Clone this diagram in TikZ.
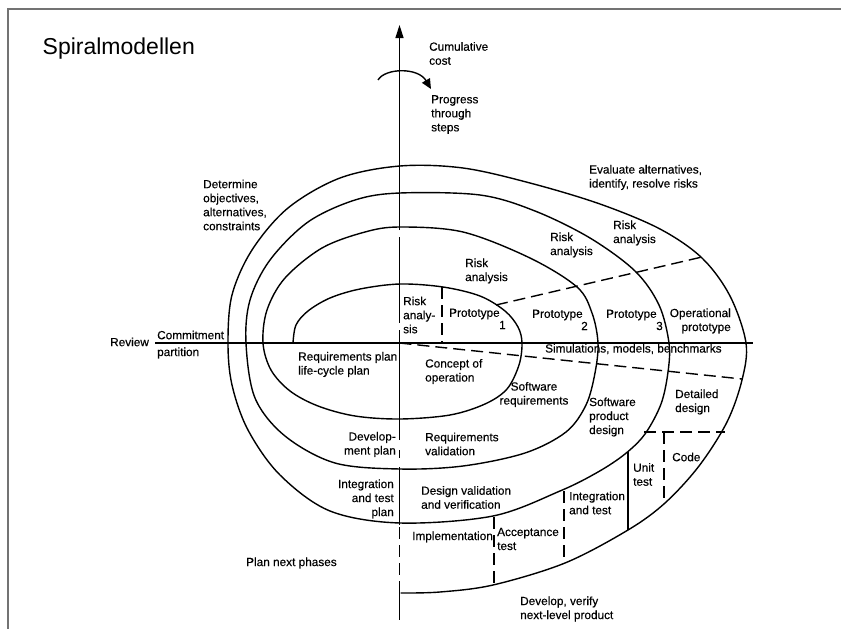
\documentclass[tikz,border=0pt]{standalone}
\usepackage{fontspec}
\setmainfont{Liberation Sans}
\newfontfamily\labelfont{Liberation Sans}[FakeBold=0.25]
\usetikzlibrary{arrows.meta}
\definecolor{framegray}{RGB}{115,115,115}
\begin{document}
\begin{tikzpicture}[x=1pt,y=-1pt,
  curve/.style={line width=1.4pt, line join=round, line cap=round},
  solidline/.style={line width=1.4pt},
  dashline/.style={line width=1.4pt, dash pattern=on 12pt off 6pt},
  lbl/.style={inner sep=0pt, font=\labelfont\fontsize{11.8}{14}\selectfont, align=left, anchor=west},
  lblr/.style={lbl, align=right, anchor=east},
  lblc/.style={lbl, align=center, anchor=center},
  idx/.style={lbl}]
\useasboundingbox (0,0) rectangle (841,629);
\fill[white] (0,0) rectangle (841,629);

% frame
\draw[framegray, line width=2.4pt] (8,629) -- (8,9) -- (841,9);

% title
\node[inner sep=0pt, anchor=base west, font=\fontsize{23}{27}\selectfont] (title) at (42.5,54.5) {Spiralmodellen};

% axes
\coordinate (axtop) at (399.5,25);
\coordinate (axbot) at (399.5,620);
\coordinate (hleft) at (155,343);
\coordinate (hright) at (753,343);
\coordinate (centre) at (399.5,343);
\draw[solidline] (hleft) -- (hright);
\draw[solidline, -{Triangle[length=13pt,width=8pt]}] (399.5,230) -- (axtop);
\draw[solidline] (399.5,237) -- (399.5,323);
\draw[solidline] (399.5,330) -- (399.5,440);
\draw[solidline] (399.5,450) -- (399.5,458);
\draw[solidline] (399.5,467) -- (399.5,525);
\draw[dashline] (399.5,527) -- (399.5,590);
\draw[solidline] (399.5,590) -- (axbot);

% rotation arrow around the axis
\draw[solidline, -{Triangle[length=10pt,width=9pt]}] (378,80) .. controls (385,68) and (418,67) .. (431,89);

% the spiral
\draw[curve] plot[smooth, tension=0.55] coordinates {
  (293,343) (296,325) (308,311) (330,298) (360,289) (400,284) (443,287) (480,296) (505,311) (518,327) (522,343)
  (519,365) (507,389) (485,404) (450,415) (400,419) (355,416) (318,406) (290,391) (271,370) (263,343)
  (267,310) (285,278) (322,248) (365,232) (400,227) (463,232) (530,258) (577,287) (592,313) (598,343)
  (595,373) (586,405) (566,432) (525,453) (463,466) (400,469) (335,463) (285,436) (255,398) (246,343)
  (250,300) (270,260) (308,222) (355,200) (400,193) (480,195) (535,211) (590,238) (635,271) (659,305) (669,343)
  (668,372) (661,404) (645,434) (625,454) (598,472) (560,491) (493,516) (400,523) (330,511) (280,475) (248,430) (232,385) (228,343)
  (232,295) (252,250) (288,208) (340,178) (400,166) (463,168) (530,183) (600,204) (660,229) (702,258) (730,296) (746,343)
  (742,380) (727,422) (699,466) (665,503) (628,530) (565,563) (493,585) (440,592) (401,593)
};

% dividing lines
\coordinate (ra1) at (496,305);
\coordinate (ra2) at (702,257);
\draw[dashline] (ra1) -- (ra2);
\coordinate (sm2) at (742,379);
\draw[dashline] (centre) -- (sm2);
\draw[dashline] (442,287) -- (442,343);
\draw[dashline] (644,432) -- (725,432);
\draw[dashline] (494,517) -- (494,585);
\draw[dashline] (564,491) -- (564,564);
\draw[solidline] (628,452) -- (628,530);
\draw[dashline] (664,432) -- (664,504);

% labels
\node[lbl] (cost) at (429,53.5) {Cumulative\\cost};
\node[lbl] (progress) at (431,114.5) {Progress\\through\\steps};
\node[lbl] (evaluate) at (589,177.5) {Evaluate alternatives,\\identify, resolve risks};
\node[lbl] (determine) at (203,205) {Determine\\objectives,\\alternatives,\\constraints};
\node[lbl] (risk1) at (465,271) {Risk\\analysis};
\node[lbl] (risk2) at (550,245) {Risk\\analysis};
\node[lbl] (risk3) at (613,233) {Risk\\analysis};
\node[lbl] (risk0) at (403,315) {Risk\\analy-\\sis};
\node[lbl] (proto1) at (449,314) {Prototype};
\node[idx] (i1) at (499,325) {1};
\node[lbl] (proto2) at (532,315) {Prototype};
\node[idx] (i2) at (581,326) {2};
\node[lbl] (proto3) at (606,315) {Prototype};
\node[idx] (i3) at (656,326) {3};
\node[lblr] (oper) at (731,321) {Operational\\prototype};
\node[lbl] (sim) at (545,349) {Simulations, models, benchmarks};
\node[lbl] (reqplan) at (298,364.5) {Requirements plan\\life-cycle plan};
\node[lbl] (concept) at (425,371.5) {Concept of\\operation};
\node[lblc] (swreq) at (534,394.5) {Software\\requirements};
\node[lbl] (swprod) at (589,417) {Software\\product\\design};
\node[lbl] (detail) at (675,402) {Detailed\\design};
\node[lblr] (devplan) at (396,444.5) {Develop-\\ment plan};
\node[lbl] (reqval) at (425,444) {Requirements\\validation};
\node[lblr] (itplan) at (394,499) {Integration\\and test\\plan};
\node[lbl] (desval) at (421,497.5) {Design validation\\and verification};
\node[lbl] (impl) at (412,537) {Implementation};
\node[lbl] (accept) at (497,539) {Acceptance\\test};
\node[lbl] (integ) at (569,503) {Integration\\and test};
\node[lbl] (unit) at (633,474.5) {Unit\\test};
\node[lbl] (code) at (672,457) {Code};
\node[lbl] (develop) at (520,609) {Develop, verify\\next-level product};
\node[lbl] (plannext) at (246,563) {Plan next phases};
\node[lbl] (review) at (110,342) {Review};
\node[lbl] (commit) at (157,335) {Commitment};
\node[lbl] (partition) at (157,353) {partition};
\end{tikzpicture}
\end{document}
